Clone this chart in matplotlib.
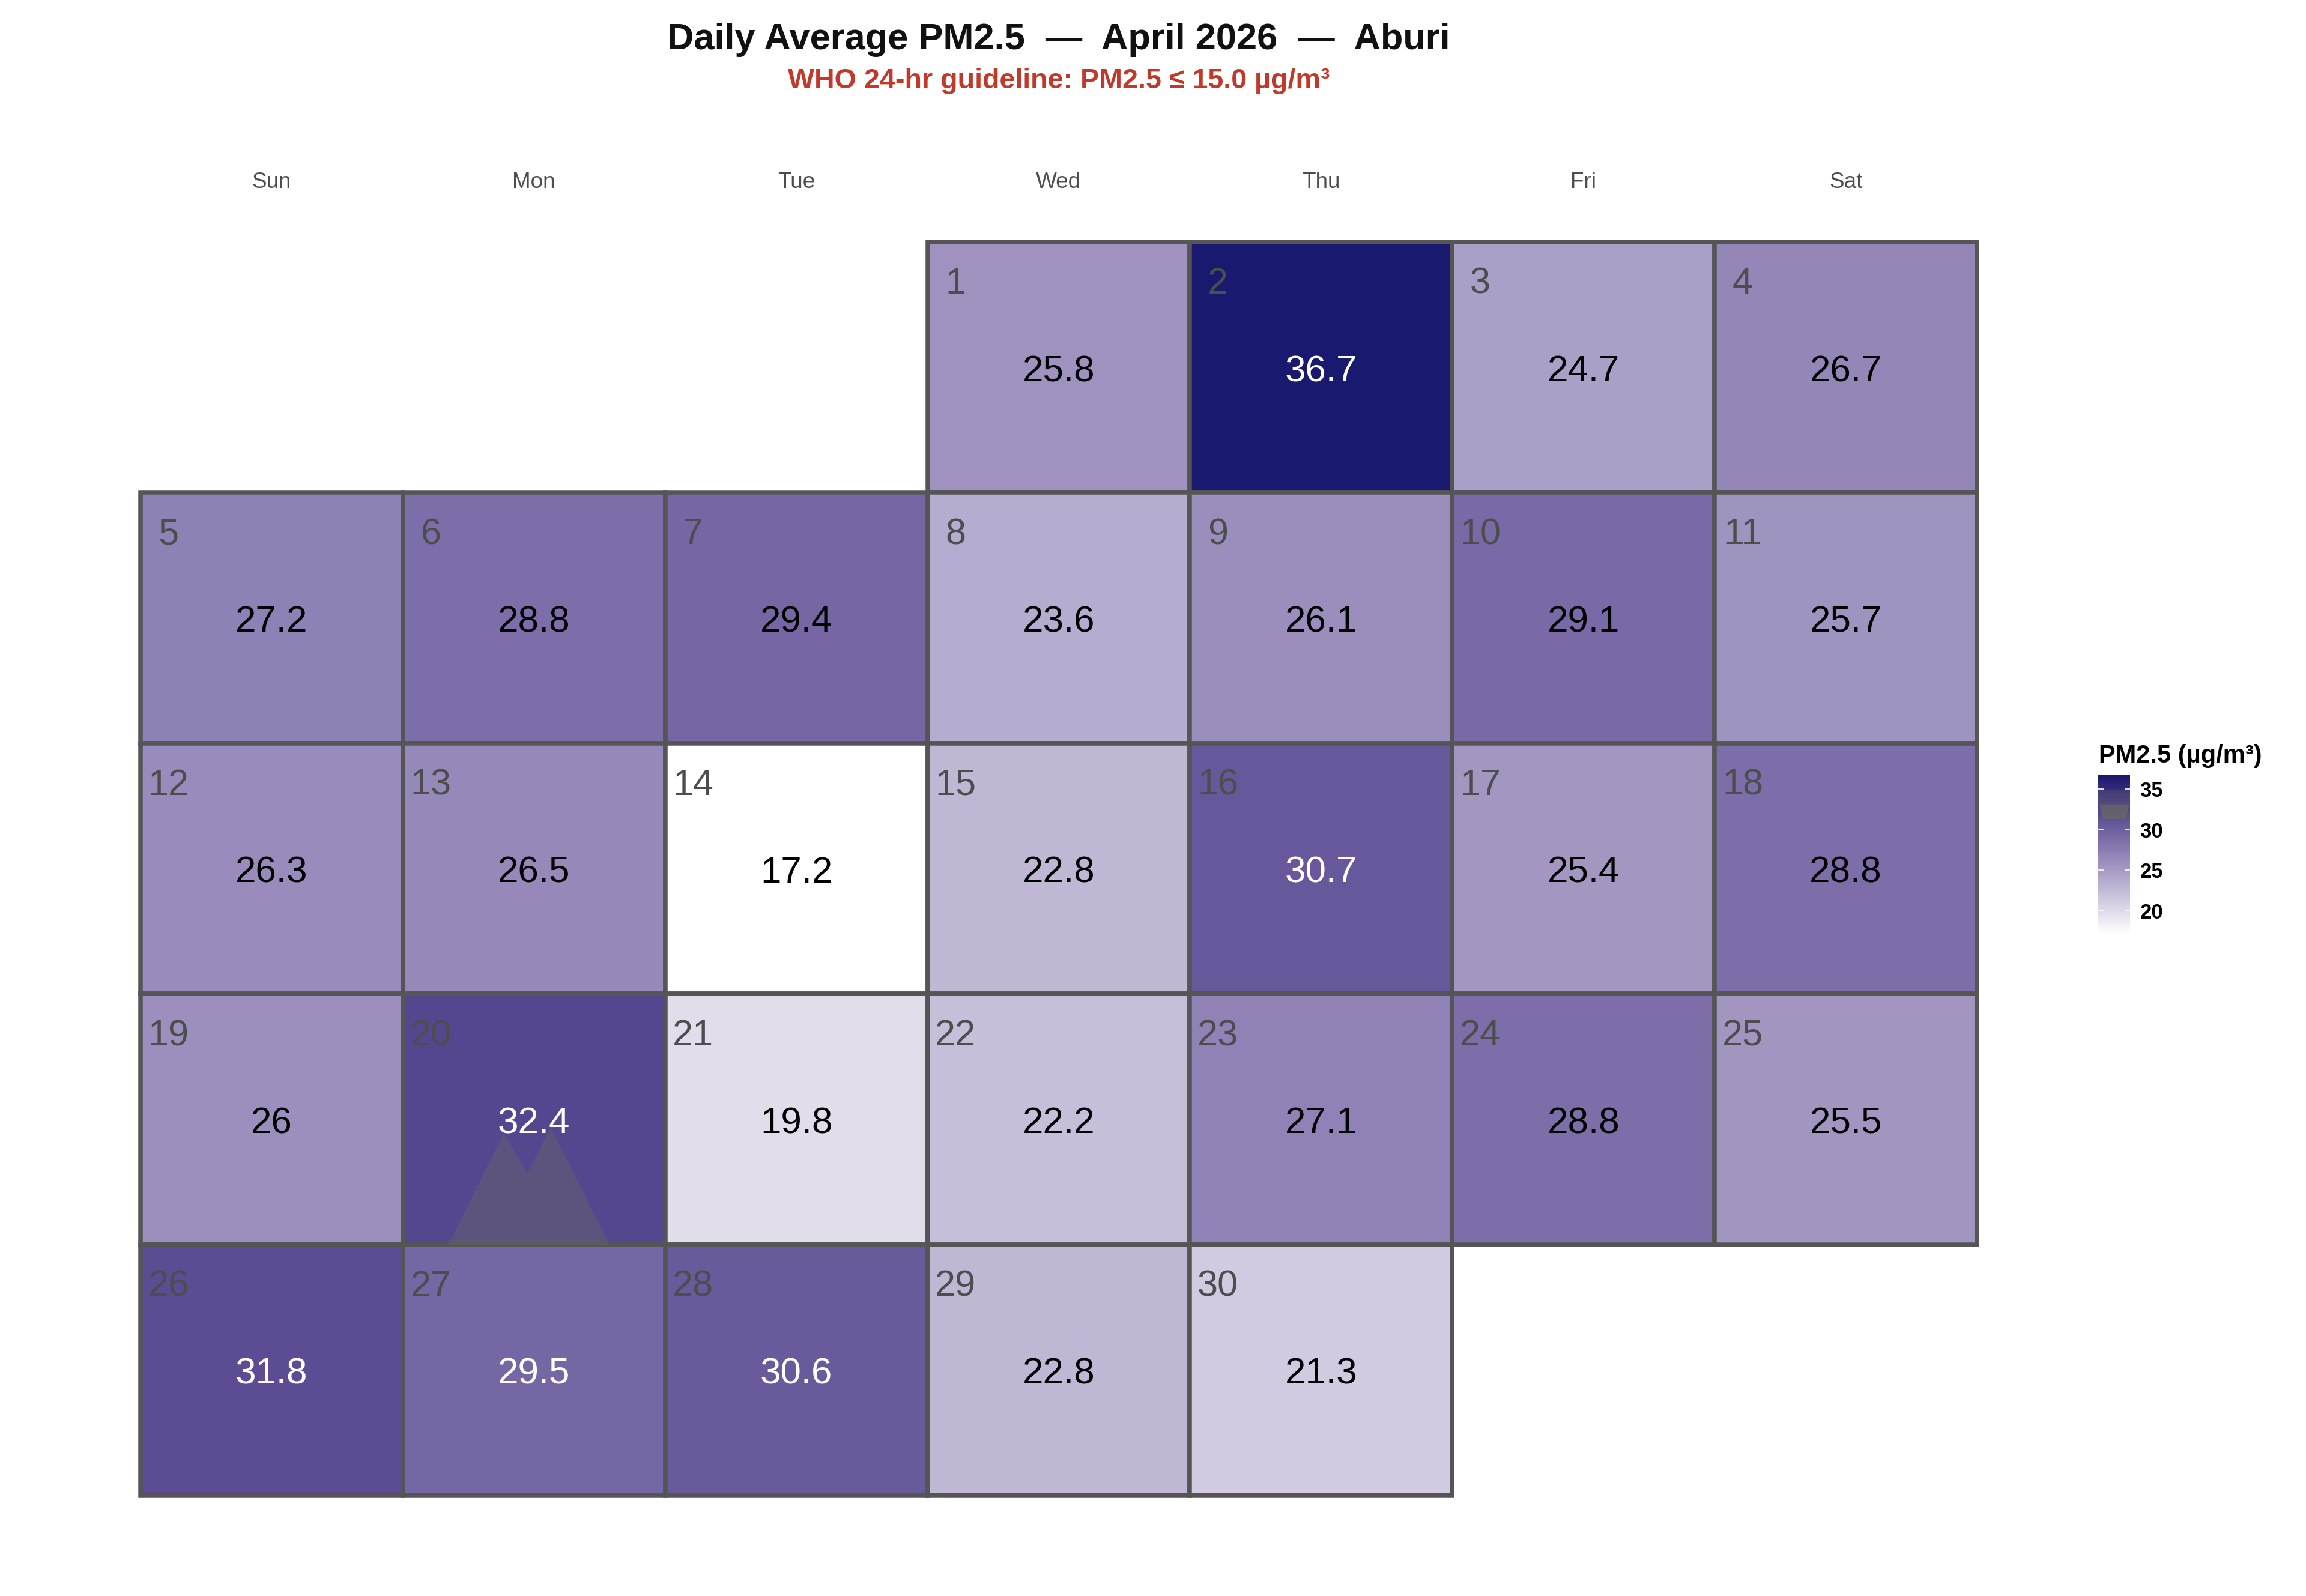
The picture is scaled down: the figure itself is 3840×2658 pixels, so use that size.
import datetime
import numpy as np
import matplotlib
matplotlib.use("Agg")
import matplotlib.pyplot as plt
from matplotlib.colors import ListedColormap, Normalize
from matplotlib.patches import Rectangle, Polygon

plt.rcParams['font.family'] = ['Liberation Sans', 'DejaVu Sans']

# data
year, month = 2026, 4
city = "Aburi"
days = list(range(1, 31))
pm25 = [25.8, 36.7, 24.7, 26.7, 27.2, 28.8, 29.4, 23.6, 26.1, 29.1,
        25.7, 26.3, 26.5, 17.2, 22.8, 30.7, 25.4, 28.8, 26.0, 32.4,
        19.8, 22.2, 27.1, 28.8, 25.5, 31.8, 29.5, 30.6, 22.8, 21.3]
weekday_labels = ["Sun", "Mon", "Tue", "Wed", "Thu", "Fri", "Sat"]
who_limit = 15.0
cbar_ticks = [20, 25, 30, 35]
marked_day = 20   # the little grey mountain


# white -> midnightblue, mixed in Lab like ggplot does
def srgb2lab(rgb):
    c = np.asarray(rgb, float) / 255.0
    c = np.where(c <= 0.04045, c / 12.92, ((c + 0.055) / 1.055) ** 2.4)
    M = np.array([[0.4124, 0.3576, 0.1805],
                  [0.2126, 0.7152, 0.0722],
                  [0.0193, 0.1192, 0.9505]])
    xyz = M @ c / np.array([0.95047, 1.0, 1.08883])
    f = np.where(xyz > 0.008856, np.cbrt(xyz), 7.787 * xyz + 16 / 116)
    return np.array([116 * f[1] - 16, 500 * (f[0] - f[1]), 200 * (f[1] - f[2])])


def lab2srgb(lab):
    L, a, b = lab
    fy = (L + 16) / 116
    fx = fy + a / 500
    fz = fy - b / 200
    f = np.array([fx, fy, fz])
    xyz = np.where(f ** 3 > 0.008856, f ** 3, (f - 16 / 116) / 7.787)
    xyz = xyz * np.array([0.95047, 1.0, 1.08883])
    Mi = np.array([[3.2406, -1.5372, -0.4986],
                   [-0.9689, 1.8758, 0.0415],
                   [0.0557, -0.2040, 1.0570]])
    c = Mi @ xyz
    c = np.where(c <= 0.0031308, 12.92 * c, 1.055 * np.clip(c, 0, None) ** (1 / 2.4) - 0.055)
    return np.clip(c, 0, 1)


lab_lo = srgb2lab([255, 255, 255])
lab_hi = srgb2lab([25, 25, 112])
cols = [lab2srgb(lab_lo + t * (lab_hi - lab_lo)) for t in np.linspace(0, 1, 256)]
cmap = ListedColormap(cols)
norm = Normalize(vmin=min(pm25), vmax=max(pm25))

fig = plt.figure(figsize=(19.2, 13.29), dpi=200)
ax = fig.add_axes([0.0609, 0.0632, 0.7964, 0.7852])
ax.set_xlim(0, 7)
ax.set_ylim(5, 0)
ax.axis('off')

first = datetime.date(year, month, 1)
offset = (first.weekday() + 1) % 7   # sunday first

for d, v in zip(days, pm25):
    pos = offset + d - 1
    col, row = pos % 7, pos // 7
    ax.add_patch(Rectangle((col, row), 1, 1, facecolor=cmap(norm(v)),
                           edgecolor='#555555', lw=2.7, clip_on=False))
    ax.text(col + 0.107, row + 0.206, str(d), ha='center', va='baseline',
            fontsize=22, color='#4d4d4d')
    tc = 'white' if v > 29.45 else 'black'
    ax.text(col + 0.5, row + 0.556, f"{v:g}", ha='center', va='baseline',
            fontsize=22.3, color=tc)
    if d == marked_day:
        shape = [(0.174, 0), (0.385, 0.444), (0.475, 0.284), (0.564, 0.466), (0.787, 0)]
        ax.add_patch(Polygon([(col + sx, row + 1 - sy) for sx, sy in shape],
                             closed=True, facecolor='#666666', alpha=0.45,
                             edgecolor='none', zorder=3))

for i, wd in enumerate(weekday_labels):
    ax.text(i + 0.5, -0.216, wd, ha='center', va='baseline', fontsize=13.3,
            color='#4d4d4d')

fig.text(0.4591, 0.9691, "Daily Average PM2.5  —  April 2026  —  " + city,
         ha='center', va='baseline', fontsize=22.1, fontweight='bold', color='#111111')
fig.text(0.4591, 0.9447, f"WHO 24-hr guideline: PM2.5 ≤ {who_limit:.1f} µg/m³",
         ha='center', va='baseline', fontsize=16.8, fontweight='bold', color='#c0392b')

# legend bar
cax = fig.add_axes([0.9099, 0.4150, 0.0138, 0.0993])
grad = np.linspace(norm.vmin, norm.vmax, 256).reshape(-1, 1)
cax.imshow(grad, cmap=cmap, norm=norm, aspect='auto', origin='lower',
           extent=[0, 1, norm.vmin, norm.vmax])
cax.set_xlim(0, 1)
cax.set_ylim(norm.vmin, norm.vmax)
cax.add_patch(Polygon([(0, 34.9), (1, 34.9), (1, 33.1), (0, 33.1)],
                      facecolor='#666666', alpha=0.3, edgecolor='none'))
cax.add_patch(Polygon([(0.03, 33.1), (0.97, 33.1), (0.88, 31.3), (0.15, 31.3)],
                      facecolor='#666666', alpha=0.85, edgecolor='none'))
for s in cax.spines.values():
    s.set_visible(False)
cax.set_xticks([])
cax.set_yticks(cbar_ticks)
cax.yaxis.tick_right()
cax.tick_params(axis='y', which='both', left=True, right=True, direction='in',
                color='white', length=3.2, width=0.6, pad=6, labelsize=12.5)
for lab in cax.get_yticklabels():
    lab.set_fontweight('bold')
fig.text(3495 / 3840, 1 - 1270 / 2658, "PM2.5 (µg/m³)", ha='left', va='baseline',
         fontsize=15, fontweight='bold', color='black')

fig.savefig("out.png", dpi=200, facecolor='white')
